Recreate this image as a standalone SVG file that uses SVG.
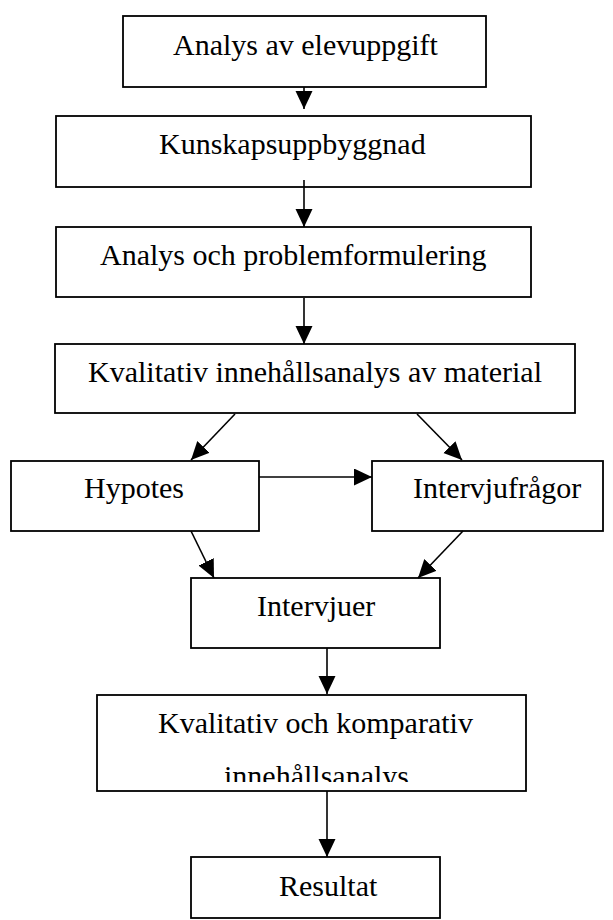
<svg xmlns="http://www.w3.org/2000/svg" width="613" height="920" viewBox="0 0 613 920">
<style>
.box{fill:#fff;stroke:#000;stroke-width:1.8}
.t{font-family:"Liberation Serif","Times New Roman",serif;font-size:30px;fill:#000}
.c{stroke:#000;stroke-width:1.6;fill:none;marker-end:url(#ah)}
</style>
<defs>
<marker id="ah" markerUnits="userSpaceOnUse" markerWidth="20" markerHeight="18" refX="18" refY="8.5" orient="auto">
<path d="M0,0 L18,8.5 L0,17 z" fill="#000"/>
</marker>
<clipPath id="clip7"><rect x="97" y="695" width="429" height="87"/></clipPath>
</defs>
<rect width="613" height="920" fill="#fff"/>
<g id="n1"><rect class="box" x="123" y="16" width="363" height="71"/><text class="t" x="173" y="55">Analys av elevuppgift</text></g>
<g id="n2"><rect class="box" x="56" y="116" width="475" height="71"/><text class="t" x="159" y="154">Kunskapsuppbyggnad</text></g>
<g id="n3"><rect class="box" x="56" y="227" width="475" height="70"/><text class="t" x="100" y="265">Analys och problemformulering</text></g>
<g id="n4"><rect class="box" x="55" y="344" width="520" height="69"/><text class="t" x="88" y="382">Kvalitativ innehållsanalys av material</text></g>
<g id="n5"><rect class="box" x="11" y="461" width="248" height="70"/><text class="t" x="84" y="498">Hypotes</text></g>
<g id="n6"><rect class="box" x="372" y="461" width="231" height="70"/><text class="t" x="413" y="498">Intervjufrågor</text></g>
<g id="n7"><rect class="box" x="191" y="578" width="249" height="70"/><text class="t" x="257" y="616">Intervjuer</text></g>
<g id="n8"><rect class="box" x="97" y="695" width="429" height="96"/><g clip-path="url(#clip7)"><text class="t" x="158" y="733">Kvalitativ och komparativ</text><text class="t" x="224" y="786">innehållsanalys</text></g></g>
<g id="n9"><rect class="box" x="191" y="857" width="249" height="61"/><text class="t" x="279" y="896">Resultat</text></g>
<g id="connectors">
<line class="c" x1="304" y1="87" x2="304" y2="109"/>
<line class="c" x1="304" y1="180" x2="304" y2="227"/>
<line class="c" x1="304" y1="298" x2="304" y2="344"/>
<line class="c" x1="235" y1="414" x2="191" y2="460"/>
<line class="c" x1="417" y1="414" x2="462" y2="460"/>
<line class="c" x1="259" y1="477" x2="372" y2="477"/>
<line class="c" x1="191" y1="531" x2="214" y2="578"/>
<line class="c" x1="463" y1="531" x2="418" y2="578"/>
<line class="c" x1="327" y1="648" x2="327" y2="694"/>
<line class="c" x1="327" y1="791" x2="327" y2="857"/>
</g>
</svg>
